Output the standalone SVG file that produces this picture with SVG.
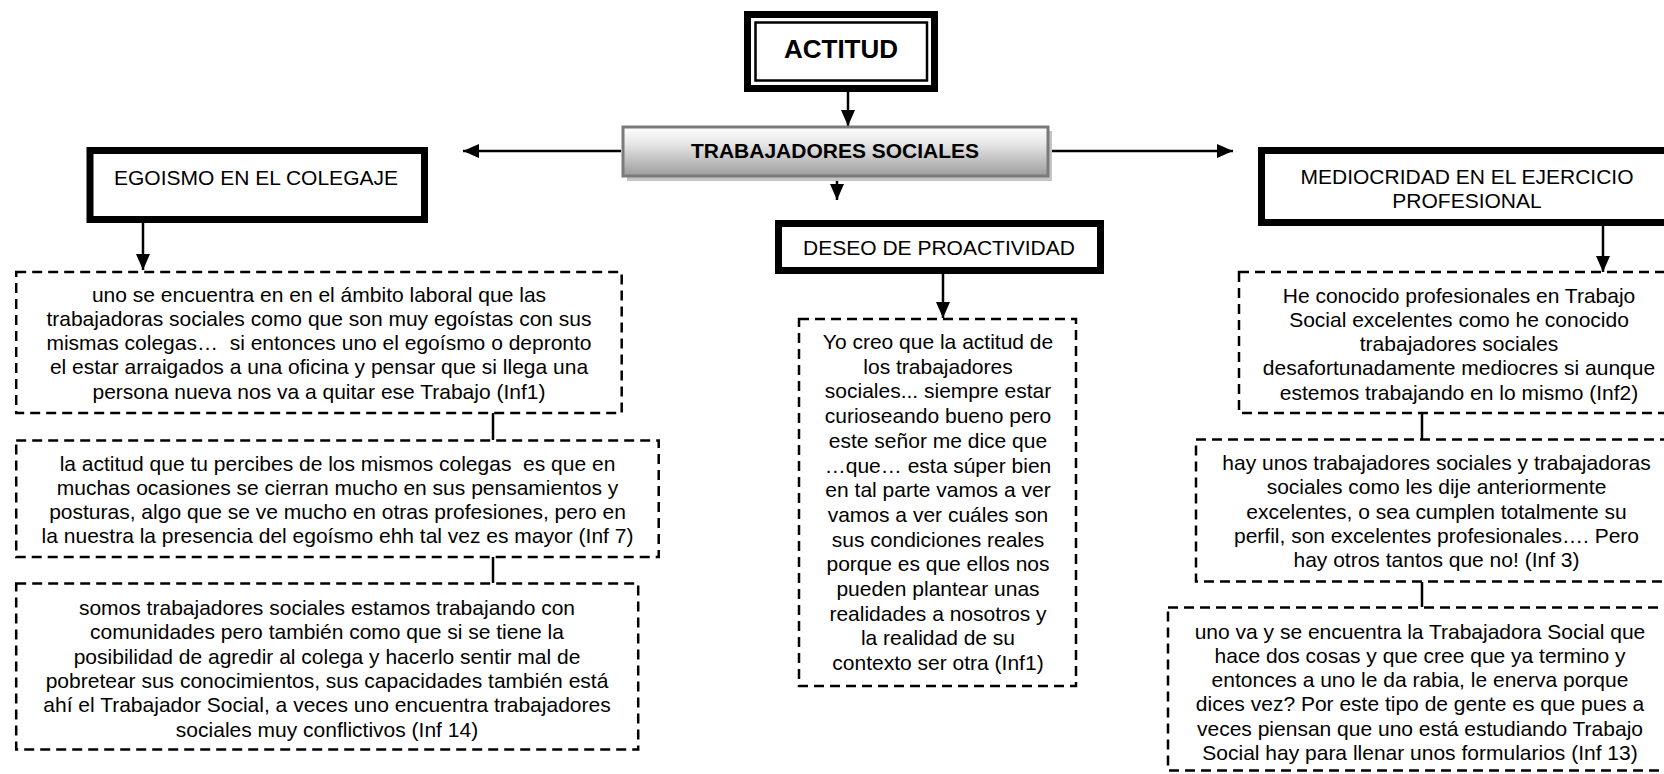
<svg xmlns="http://www.w3.org/2000/svg" width="1664" height="774" viewBox="0 0 1664 774">
<style>
text{font-family:"Liberation Sans",Arial,sans-serif;fill:#000;text-anchor:middle;white-space:pre}
.b{font-size:21px}
.h{font-size:21px}
.thick{fill:#fff;stroke:#000;stroke-width:7}
.dash{fill:#fff;stroke:#000;stroke-width:2.5;stroke-dasharray:10 6}
.ln{stroke:#000;stroke-width:2.5;fill:none}
.arr{stroke:#000;stroke-width:2.5;fill:none;marker-end:url(#ah)}
</style>
<defs>
<marker id="ah" markerUnits="userSpaceOnUse" markerWidth="17" markerHeight="15" refX="16" refY="7" orient="auto">
<path d="M0,0 L16,7 L0,14 Z" fill="#000"/>
</marker>
<linearGradient id="gts" x1="0" y1="0" x2="0" y2="1">
<stop offset="0" stop-color="#ffffff"/>
<stop offset="0.35" stop-color="#e6e6e6"/>
<stop offset="1" stop-color="#9c9c9c"/>
</linearGradient>
</defs>
<rect width="1664" height="774" fill="#fff"/>

<g id="connectors">
<line class="arr" x1="848" y1="78" x2="848" y2="126"/>
<line class="arr" x1="621" y1="151" x2="463" y2="151"/>
<line class="arr" x1="1049" y1="151" x2="1233" y2="151"/>
<line class="arr" x1="837" y1="178" x2="837" y2="200"/>
<line class="arr" x1="143" y1="223" x2="143" y2="270"/>
<line class="arr" x1="943" y1="274" x2="943" y2="318"/>
<line class="arr" x1="1603" y1="226" x2="1603" y2="272"/>
<line class="ln" x1="493" y1="413" x2="493" y2="440"/>
<line class="ln" x1="493" y1="557" x2="493" y2="583"/>
<line class="ln" x1="1422" y1="413" x2="1422" y2="439"/>
<line class="ln" x1="1422" y1="582" x2="1422" y2="607"/>
</g>

<g id="actitud">
<rect class="thick" x="747.5" y="14.5" width="187" height="74"/>
<rect x="755.5" y="22.5" width="171.5" height="58" fill="none" stroke="#000" stroke-width="2.5"/>
<text x="841" y="58" style="font-size:26px;font-weight:bold">ACTITUD</text>
</g>

<g id="trabajadores">
<rect x="627" y="131" width="425" height="50" fill="#c4c4c4"/>
<rect x="623" y="127" width="425" height="49" fill="url(#gts)" stroke="#7a7a7a" stroke-width="3"/>
<text x="835" y="158" style="font-size:21px;font-weight:bold">TRABAJADORES SOCIALES</text>
</g>

<g id="egoismo">
<rect class="thick" x="90" y="150.5" width="334.5" height="69"/>
<text class="h" x="256" y="185">EGOISMO EN EL COLEGAJE</text>
</g>

<g id="deseo">
<rect class="thick" x="778.5" y="223.5" width="322" height="47"/>
<text class="h" x="939" y="255">DESEO DE PROACTIVIDAD</text>
</g>

<g id="mediocridad">
<rect class="thick" x="1261.5" y="150.5" width="420" height="72"/>
<text class="h" x="1467" y="184">MEDIOCRIDAD EN EL EJERCICIO</text>
<text class="h" x="1467" y="208">PROFESIONAL</text>
</g>

<g id="inf1-egoismo">
<rect class="dash" x="16.2" y="272" width="605.5" height="141"/>
<text class="b" x="319" y="301.5">uno se encuentra en en el ámbito laboral que las</text>
<text class="b" x="319" y="325.8">trabajadoras sociales como que son muy egoístas con sus</text>
<text class="b" x="319" y="350.1">mismas colegas…  si entonces uno el egoísmo o depronto</text>
<text class="b" x="319" y="374.4">el estar arraigados a una oficina y pensar que si llega una</text>
<text class="b" x="319" y="398.7">persona nueva nos va a quitar ese Trabajo (Inf1)</text>
</g>

<g id="inf7-egoismo">
<rect class="dash" x="16.2" y="440.5" width="642.5" height="116.5"/>
<text class="b" x="337.5" y="470.5">la actitud que tu percibes de los mismos colegas  es que en</text>
<text class="b" x="337.5" y="494.8">muchas ocasiones se cierran mucho en sus pensamientos y</text>
<text class="b" x="337.5" y="519.1">posturas, algo que se ve mucho en otras profesiones, pero en</text>
<text class="b" x="337.5" y="543.4">la nuestra la presencia del egoísmo ehh tal vez es mayor (Inf 7)</text>
</g>

<g id="inf14-egoismo">
<rect class="dash" x="16.2" y="583.5" width="622" height="166"/>
<text class="b" x="327" y="615">somos trabajadores sociales estamos trabajando con</text>
<text class="b" x="327" y="639.3">comunidades pero también como que si se tiene la</text>
<text class="b" x="327" y="663.6">posibilidad de agredir al colega y hacerlo sentir mal de</text>
<text class="b" x="327" y="687.9">pobretear sus conocimientos, sus capacidades también está</text>
<text class="b" x="327" y="712.2">ahí el Trabajador Social, a veces uno encuentra trabajadores</text>
<text class="b" x="327" y="736.5">sociales muy conflictivos (Inf 14)</text>
</g>

<g id="inf1-proactividad">
<rect class="dash" x="799" y="319" width="277" height="367"/>
<text class="b" x="938" y="349">Yo creo que la actitud de</text>
<text class="b" x="938" y="373.7">los trabajadores</text>
<text class="b" x="938" y="398.4">sociales... siempre estar</text>
<text class="b" x="938" y="423.1">curioseando bueno pero</text>
<text class="b" x="938" y="447.8">este señor me dice que</text>
<text class="b" x="938" y="472.5">…que… esta súper bien</text>
<text class="b" x="938" y="497.2">en tal parte vamos a ver</text>
<text class="b" x="938" y="521.9">vamos a ver cuáles son</text>
<text class="b" x="938" y="546.6">sus condiciones reales</text>
<text class="b" x="938" y="571.3">porque es que ellos nos</text>
<text class="b" x="938" y="596">pueden plantear unas</text>
<text class="b" x="938" y="620.7">realidades a nosotros y</text>
<text class="b" x="938" y="645.4">la realidad de su</text>
<text class="b" x="938" y="670.1">contexto ser otra (Inf1)</text>
</g>

<g id="inf2-mediocridad">
<rect class="dash" x="1239" y="272" width="440" height="141"/>
<text class="b" x="1459" y="302.5">He conocido profesionales en Trabajo</text>
<text class="b" x="1459" y="326.8">Social excelentes como he conocido</text>
<text class="b" x="1459" y="351.1">trabajadores sociales</text>
<text class="b" x="1459" y="375.4">desafortunadamente mediocres si aunque</text>
<text class="b" x="1459" y="399.7">estemos trabajando en lo mismo (Inf2)</text>
</g>

<g id="inf3-mediocridad">
<rect class="dash" x="1196" y="439.5" width="482" height="142"/>
<text class="b" x="1436.5" y="470">hay unos trabajadores sociales y trabajadoras</text>
<text class="b" x="1436.5" y="494.3">sociales como les dije anteriormente</text>
<text class="b" x="1436.5" y="518.6">excelentes, o sea cumplen totalmente su</text>
<text class="b" x="1436.5" y="542.9">perfil, son excelentes profesionales…. Pero</text>
<text class="b" x="1436.5" y="567.2">hay otros tantos que no! (Inf 3)</text>
</g>

<g id="inf13-mediocridad">
<rect class="dash" x="1168" y="607.5" width="508" height="163"/>
<text class="b" x="1420" y="638.5">uno va y se encuentra la Trabajadora Social que</text>
<text class="b" x="1420" y="662.8">hace dos cosas y que cree que ya termino y</text>
<text class="b" x="1420" y="687.1">entonces a uno le da rabia, le enerva porque</text>
<text class="b" x="1420" y="711.4">dices vez? Por este tipo de gente es que pues a</text>
<text class="b" x="1420" y="735.7">veces piensan que uno está estudiando Trabajo</text>
<text class="b" x="1420" y="760">Social hay para llenar unos formularios (Inf 13)</text>
</g>
</svg>
